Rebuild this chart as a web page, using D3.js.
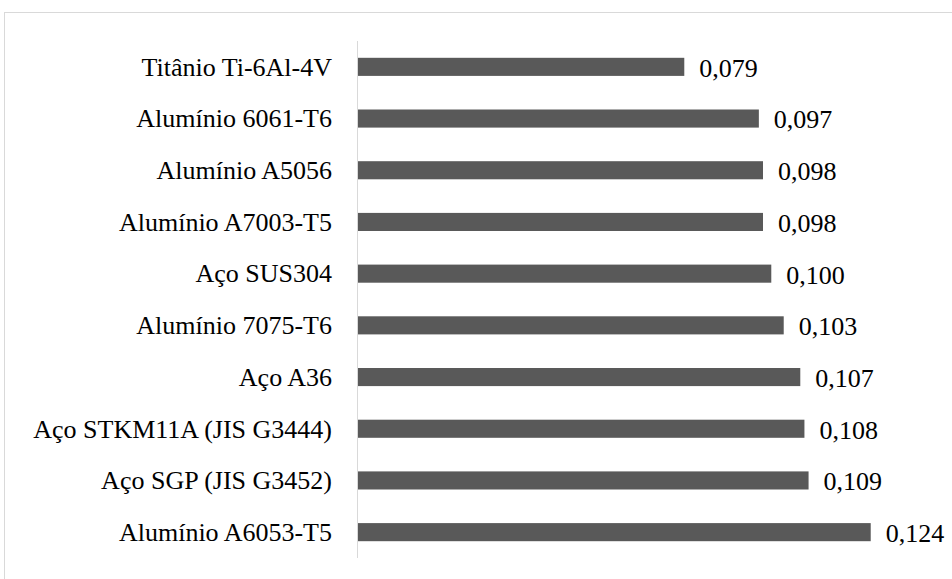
<!DOCTYPE html>
<html>
<head>
<meta charset="utf-8">
<script src="https://cdn.jsdelivr.net/npm/d3@7"></script>
<style>
    body { margin: 0; background: #fff; }
    svg text { font-family: "Times New Roman", Times, "Liberation Serif", Tinos, "DejaVu Serif", serif; fill: #000; }
</style>
</head>
<body>
<div id="chart"></div>
<script>
// categories top to bottom
const materials = [
    'Titânio Ti-6Al-4V',
    'Alumínio 6061-T6',
    'Alumínio A5056',
    'Alumínio A7003-T5',
    'Aço SUS304',
    'Alumínio 7075-T6',
    'Aço A36',
    'Aço STKM11A (JIS G3444)',
    'Aço SGP (JIS G3452)',
    'Alumínio A6053-T5'
]
const values = [0.079, 0.097, 0.098, 0.098, 0.100, 0.103, 0.107, 0.108, 0.109, 0.124]

const svgWidth = 952
const svgHeight = 579

const margin = { left: 357, right: 15, top: 41, bottom: 21 }

const svg = d3.select('#chart')
    .append('svg')
    .attr('width', svgWidth)
    .attr('height', svgHeight)

// chart area border (runs off the right and bottom of the picture)
svg.append('rect')
    .attr('x', 4.5)
    .attr('y', 12.5)
    .attr('width', svgWidth + 20)
    .attr('height', svgHeight + 20)
    .attr('fill', 'none')
    .attr('stroke', '#d9d9d9')
    .attr('stroke-width', 1)

const g = svg.append('g')
    .attr('transform', `translate(${margin.left},${margin.top})`)

////////////////////////////////////
//////////////scales////////////////
////////////////////////////////////

const xScale = d3.scaleLinear()
    .domain([0, 0.14])
    .range([0, 580])

const yScale = d3.scaleBand()
    .domain(materials)
    .range([0, 517])
    .paddingInner(0.65)
    .paddingOuter(0.325)

const fmt = d3.formatLocale({ decimal: ',', thousands: '.', grouping: [3], currency: ['', ''] }).format('.3f')

const data = materials.map((m, i) => ({ name: m, value: values[i] }))

////////////////////////////////////
///////////// axis /////////////////
////////////////////////////////////

const yAxis = d3.axisLeft(yScale).tickSize(0).tickPadding(25)

const axisG = g.append('g').call(yAxis)
    .attr('font-family', null)
    .attr('font-size', null)
axisG.select('.domain')
    .attr('d', `M0.5,0V517`)
    .attr('stroke', '#d9d9d9')
axisG.selectAll('text')
    .style('font-size', '26px')
    .attr('fill', '#000')
    .attr('dy', '0.34em')

////////////////////////////////////
/////////////// bars ///////////////
////////////////////////////////////

g.selectAll('.bar')
    .data(data)
    .join('rect')
    .attr('class', 'bar')
    .attr('x', 1)
    .attr('y', d => yScale(d.name))
    .attr('width', d => xScale(d.value) - 1)
    .attr('height', yScale.bandwidth())
    .attr('fill', '#595959')

g.selectAll('.value')
    .data(data)
    .join('text')
    .attr('class', 'value')
    .attr('x', d => xScale(d.value) + 15)
    .attr('y', d => yScale(d.name) + yScale.bandwidth() / 2)
    .attr('dy', '0.38em')
    .style('font-size', '26px')
    .text(d => fmt(d.value))
</script>
</body>
</html>
